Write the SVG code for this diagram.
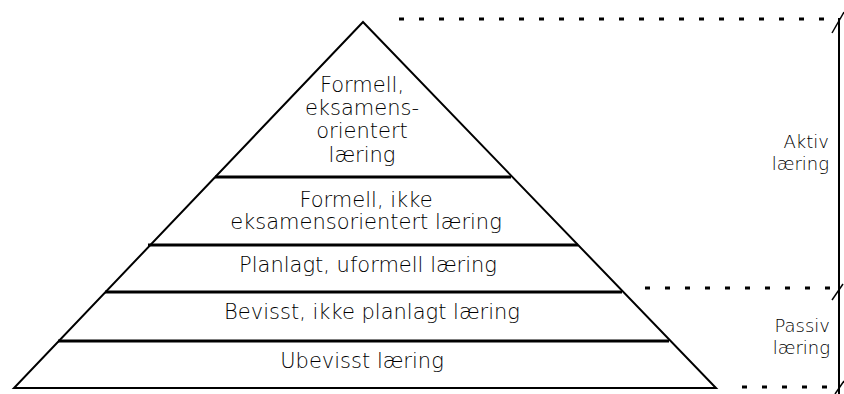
<svg xmlns="http://www.w3.org/2000/svg" width="844" height="394" viewBox="0 0 844 394">
  <style>
    .lbl { font-family: "DejaVu Sans", "Liberation Sans", sans-serif; font-size: 21px; font-weight: 200; fill: #000; text-anchor: middle; }
    .side { font-family: "DejaVu Sans", "Liberation Sans", sans-serif; font-size: 18px; font-weight: 200; fill: #000; text-anchor: end; }
    .edge { fill: none; stroke: #000; stroke-width: 2; }
    .div { stroke: #000; stroke-width: 3; }
    .dots { stroke: #000; stroke-width: 3; stroke-dasharray: 5 15; fill: none; }
    .tick { stroke: #000; stroke-width: 1.5; }
  </style>

  <!-- pyramid outline -->
  <g id="pyramid">
    <polygon class="edge" points="363,22 14,388 716,388"/>
  </g>

  <!-- tiers, top to bottom -->
  <g id="tier-formal-exam">
    <text class="lbl" x="362" y="92">Formell,</text>
    <text class="lbl" x="362" y="115">eksamens-</text>
    <text class="lbl" x="362" y="138">orientert</text>
    <text class="lbl" x="362" y="162">læring</text>
  </g>

  <g id="tier-formal-nonexam">
    <line class="div" x1="215" y1="177" x2="511" y2="177"/>
    <text class="lbl" x="366" y="207">Formell, ikke</text>
    <text class="lbl" x="366" y="229">eksamensorientert læring</text>
  </g>

  <g id="tier-planned">
    <line class="div" x1="148" y1="245" x2="578" y2="245" stroke-width="2"/>
    <text class="lbl" x="368" y="272">Planlagt, uformell læring</text>
  </g>

  <g id="tier-conscious">
    <line class="div" x1="105" y1="292" x2="622" y2="292"/>
    <text class="lbl" x="372" y="319">Bevisst, ikke planlagt læring</text>
  </g>

  <g id="tier-unconscious">
    <line class="div" x1="58" y1="341" x2="669" y2="341"/>
    <text class="lbl" x="362" y="368">Ubevisst læring</text>
  </g>

  <!-- side brackets -->
  <g id="brackets">
    <line class="dots" x1="399" y1="19" x2="836" y2="19"/>
    <line class="dots" x1="645" y1="288" x2="836" y2="288"/>
    <line class="dots" x1="742" y1="387" x2="836" y2="387"/>
    <line class="edge" x1="839" y1="18" x2="839" y2="394"/>
    <line class="tick" x1="832" y1="33" x2="844" y2="12"/>
    <line class="tick" x1="832" y1="300" x2="843" y2="284"/>
    <line class="tick" x1="835" y1="394" x2="844" y2="381"/>
  </g>

  <g id="label-active">
    <text class="side" x="829" y="148">Aktiv</text>
    <text class="side" x="829" y="170">læring</text>
  </g>

  <g id="label-passive">
    <text class="side" x="830" y="332">Passiv</text>
    <text class="side" x="830" y="354">læring</text>
  </g>
</svg>
